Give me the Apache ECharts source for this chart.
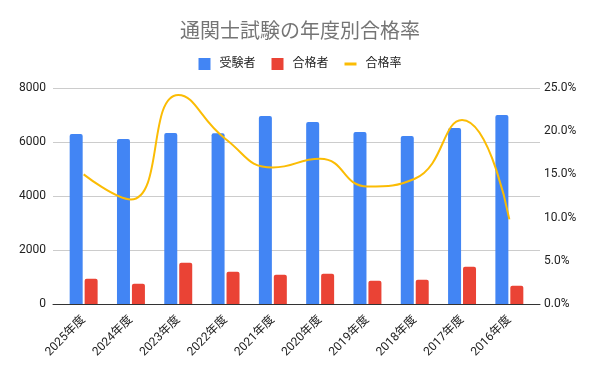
<!DOCTYPE html>
<html><head><meta charset="utf-8">
<script src="https://cdn.jsdelivr.net/npm/echarts@6/dist/echarts.min.js"></script>
<style>html,body{margin:0;padding:0;background:#fff}#c{width:600px;height:371px}</style>
</head><body><div id="c"></div>
<script>
const categories = ['2025年度','2024年度','2023年度','2022年度','2021年度','2020年度','2019年度','2018年度','2017年度','2016年度'];
const examinees = [6300, 6110, 6330, 6320, 6960, 6740, 6370, 6220, 6520, 7000];
const passers = [935, 750, 1525, 1195, 1085, 1120, 860, 900, 1380, 675];
const passRate = [15.0, 12.1, 24.2, 19.1, 15.8, 16.8, 13.6, 14.5, 21.3, 9.8];
const leftTicks = [0, 2000, 4000, 6000, 8000];
const rightTicks = [0, 5, 10, 15, 20, 25];

const FONT = "Roboto, 'Noto Sans CJK JP', sans-serif";
const chart = echarts.init(document.getElementById('c'));
const gTop = 88, gH = 216;
chart.setOption({
  animation: false,
  textStyle: {fontFamily: FONT},
  title: {text: '通関士試験の年度別合格率', left: 'center', top: 18,
    textStyle: {fontFamily: FONT, fontSize: 20, fontWeight: 'normal', color: '#757575'}},
  legend: {top: 53, left: 'center', itemWidth: 12, itemHeight: 12, itemGap: 16,
    textStyle: {fontFamily: FONT, fontSize: 12, color: '#222', padding: [0,0,0,4]},
    data: [{name:'受験者', icon:'rect'}, {name:'合格者', icon:'rect'}, {name:'合格率', icon:'path://M0,0h12v3h-12z'}]},
  grid: [
    {left: 53, right: 60, top: gTop, height: gH},
    {left: 60, right: 67, top: gTop, height: gH}
  ],
  xAxis: [
    {type: 'value', gridIndex: 0, min: 0, max: 1, axisLabel: {show: false}, axisTick: {show: false}, splitLine: {show: false},
      axisLine: {show: true, onZero: false, lineStyle: {color: '#333', width: 1}}},
    {type: 'category', gridIndex: 1, data: categories, axisLine: {show: false}, axisTick: {show: false},
      axisLabel: {rotate: 45, interval: 0, margin: 14, fontSize: 12, color: '#222', fontFamily: FONT, padding: [0, 0, 0, 0]}}
  ],
  yAxis: [
    {type: 'value', gridIndex: 0, min: 0, max: 8000, interval: 2000, position: 'left',
      axisLine: {show: false}, axisTick: {show: false},
      axisLabel: {margin: 7, fontSize: 12, color: '#222', fontFamily: FONT, formatter: v => leftTicks.includes(v) ? String(v) : ''},
      splitLine: {lineStyle: {color: '#cccccc'}}},
    {type: 'value', gridIndex: 0, min: 0, max: 25, interval: 5, position: 'right',
      axisLine: {show: false}, axisTick: {show: false},
      axisLabel: {margin: 4, fontSize: 12, color: '#222', fontFamily: FONT, formatter: v => rightTicks.includes(v) ? v.toFixed(1) + '%' : ''},
      splitLine: {show: false}},
    {type: 'value', gridIndex: 1, min: 0, max: 8000, show: false},
    {type: 'value', gridIndex: 1, min: 0, max: 25, show: false}
  ],
  series: [
    {name: '受験者', type: 'bar', xAxisIndex: 1, yAxisIndex: 2, data: examinees, barWidth: 13, barGap: '15%',
      itemStyle: {color: '#4285f4', borderRadius: [2,2,0,0]}},
    {name: '合格者', type: 'bar', xAxisIndex: 1, yAxisIndex: 2, data: passers, barWidth: 13, barGap: '15%',
      itemStyle: {color: '#ea4335', borderRadius: [2,2,0,0]}},
    {name: '合格率', type: 'line', xAxisIndex: 1, yAxisIndex: 3, data: passRate, smooth: 0.5, symbol: 'none',
      lineStyle: {color: '#fbbc04', width: 2}, itemStyle: {color: '#fbbc04'}, z: 5}
  ]
});
</script></body></html>
